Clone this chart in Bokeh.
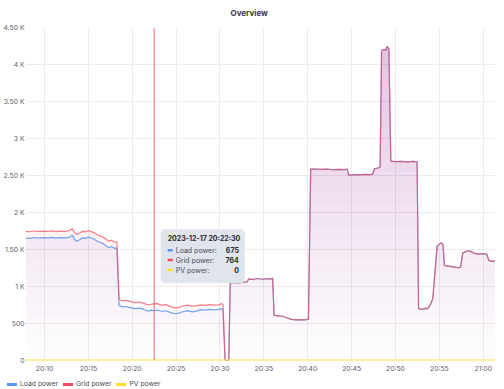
import numpy as np
import pandas as pd
from bokeh.plotting import figure
from bokeh.models import (Range1d, FixedTicker, DatetimeTickFormatter, Span,
                          BoxAnnotation, Label, Legend, LegendItem)
from bokeh.embed import file_html
from bokeh.resources import INLINE

DAY = "2023-12-17"
TITLE = "Overview"

times = [
    "20:07:50", "20:08:20", "20:08:50", "20:09:20", "20:09:50", "20:10:20", "20:10:50", "20:11:20",
    "20:11:50", "20:12:20", "20:12:50", "20:13:10", "20:13:25", "20:13:40", "20:14:00", "20:14:20",
    "20:14:40", "20:15:00", "20:15:20", "20:15:40", "20:16:00", "20:16:20", "20:16:40", "20:17:00",
    "20:17:20", "20:17:40", "20:18:00", "20:18:15", "20:18:30", "20:18:50", "20:19:20", "20:19:50",
    "20:20:20", "20:20:50", "20:21:20", "20:21:50", "20:22:10", "20:22:30", "20:22:50", "20:23:20",
    "20:23:50", "20:24:20", "20:24:50", "20:25:20", "20:25:50", "20:26:20", "20:26:50", "20:27:20",
    "20:27:50", "20:28:20", "20:28:50", "20:29:20", "20:29:50", "20:30:10", "20:30:20", "20:30:35",
    "20:31:00", "20:31:10", "20:31:40", "20:32:10", "20:32:40", "20:33:05", "20:33:15", "20:33:45",
    "20:34:15", "20:34:45", "20:35:15", "20:35:45", "20:36:00", "20:36:10", "20:36:40", "20:37:10",
    "20:37:40", "20:38:10", "20:38:40", "20:39:10", "20:39:40", "20:40:05", "20:40:20", "20:40:50",
    "20:41:30", "20:42:10", "20:42:50", "20:43:30", "20:44:10", "20:44:30", "20:44:40", "20:45:10",
    "20:45:50", "20:46:30", "20:47:10", "20:47:25", "20:47:35", "20:48:05", "20:48:15", "20:48:25",
    "20:48:42", "20:48:55", "20:49:02", "20:49:15", "20:49:28", "20:50:00", "20:50:40", "20:51:20",
    "20:52:00", "20:52:28", "20:52:38", "20:53:00", "20:53:20", "20:53:40", "20:54:00", "20:54:15",
    "20:54:45", "20:55:00", "20:55:15", "20:55:25", "20:55:35", "20:56:05", "20:56:35", "20:57:05",
    "20:57:25", "20:57:40", "20:58:00", "20:58:20", "20:58:40", "20:59:00", "20:59:30", "21:00:00",
    "21:00:25", "21:00:38", "21:01:00", "21:01:20",
]

load_power = [
    1655, 1650, 1662, 1655, 1660, 1656, 1664, 1654,
    1660, 1657, 1668, 1694, 1640, 1612, 1632, 1658,
    1650, 1668, 1655, 1640, 1612, 1598, 1580, 1552,
    1525, 1540, 1515, 1522, 745, 725, 730, 712,
    700, 708, 690, 668, 680, 675, 682, 665,
    672, 650, 632, 640, 662, 670, 658, 668,
    688, 680, 692, 685, 690, 700, 688, 0,
    0, 1050, 1055, 1048, 1058, 1062, 1100, 1095,
    1108, 1098, 1105, 1100, 1115, 610, 602, 598,
    575, 555, 548, 552, 550, 558, 2585, 2588,
    2582, 2586, 2578, 2584, 2580, 2585, 2505, 2510,
    2508, 2515, 2512, 2520, 2590, 2605, 2615, 4186,
    4205, 4190, 4244, 4215, 2695, 2688, 2692, 2685,
    2690, 2686, 700, 690, 705, 700, 760, 835,
    1545, 1572, 1590, 1565, 1282, 1275, 1266, 1255,
    1258, 1455, 1470, 1487, 1468, 1448, 1438, 1444,
    1436, 1352, 1340, 1350,
]

grid_power = [
    1745, 1740, 1750, 1743, 1748, 1745, 1752, 1742,
    1748, 1745, 1757, 1780, 1728, 1705, 1722, 1746,
    1738, 1756, 1742, 1728, 1700, 1686, 1668, 1640,
    1612, 1626, 1598, 1605, 828, 808, 812, 795,
    782, 790, 772, 750, 760, 764, 768, 748,
    755, 728, 712, 718, 740, 748, 735, 742,
    752, 745, 756, 748, 752, 768, 760, 0,
    0, 1050, 1055, 1048, 1058, 1062, 1100, 1095,
    1108, 1098, 1105, 1100, 1115, 610, 602, 598,
    575, 555, 548, 552, 550, 558, 2585, 2588,
    2582, 2586, 2578, 2584, 2580, 2585, 2505, 2510,
    2508, 2515, 2512, 2520, 2590, 2605, 2615, 4186,
    4205, 4190, 4244, 4215, 2695, 2688, 2692, 2685,
    2690, 2686, 700, 690, 705, 700, 760, 835,
    1545, 1572, 1590, 1565, 1282, 1275, 1266, 1255,
    1258, 1455, 1470, 1487, 1468, 1448, 1438, 1444,
    1436, 1352, 1340, 1350,
]

pv_times = ["20:07:50", "21:01:20"]
pv_power = [0, 0]

series_names = ["Load power", "Grid power", "PV power"]
series_colors = ["#5794F2", "#F2495C", "#FADE2A"]

xtick_labels = ["20:10", "20:15", "20:20", "20:25", "20:30", "20:35",
                "20:40", "20:45", "20:50", "20:55", "21:00"]
ytick_values = [0, 500, 1000, 1500, 2000, 2500, 3000, 3500, 4000, 4500]
ytick_labels = ["0", "500", "1 K", "1.50 K", "2 K", "2.50 K", "3 K", "3.50 K", "4 K", "4.50 K"]

hover_time = "20:22:30"
x_start, x_end = "20:07:50", "21:01:24"

FONT = "Inter"


def ts(s):
    return pd.Timestamp(f"{DAY} {s}")


def ms(s):
    return ts(s).value / 1e6


t = pd.to_datetime([f"{DAY} {s}" for s in times])
tp = pd.to_datetime([f"{DAY} {s}" for s in pv_times])
load = np.array(load_power, dtype=float)
grid = np.array(grid_power, dtype=float)

p = figure(width=504, height=375, output_backend="svg", toolbar_location=None,
           x_range=Range1d(ts(x_start), ts(x_end)), y_range=Range1d(0, 4500),
           x_axis_type="datetime",
           min_border_left=25, min_border_right=9, min_border_top=25, min_border_bottom=15)
p.outline_line_alpha = 0
p.background_fill_color = "white"
p.border_fill_color = "white"

# title
p.title.text = TITLE
p.title.align = "left"
p.title.vertical_align = "top"
p.title.offset = 205
p.title.text_font = FONT
p.title.text_font_size = "8px"
p.title.text_font_style = "bold"
p.title.text_color = "#3c3c46"
p.title.standoff = 15

# axes
for ax in (p.xaxis[0], p.yaxis[0]):
    ax.axis_line_alpha = 0
    ax.major_tick_line_alpha = 0
    ax.minor_tick_line_alpha = 0
    ax.major_tick_out = 0
    ax.major_tick_in = 0
    ax.minor_tick_out = 0
    ax.minor_tick_in = 0
    ax.major_label_text_font = FONT
    ax.major_label_text_font_size = "6.8px"
    ax.major_label_text_color = "#5c5c66"
p.yaxis.major_label_standoff = 1
p.xaxis.major_label_standoff = 3
p.xaxis.ticker = FixedTicker(ticks=[ms(lbl + ":00") for lbl in xtick_labels])
p.xaxis.formatter = DatetimeTickFormatter(minutes="%H:%M", hourmin="%H:%M", hours="%H:%M",
                                          minsec="%H:%M", seconds="%H:%M")
p.yaxis.ticker = FixedTicker(ticks=ytick_values)
p.yaxis.major_label_overrides = {v: l for v, l in zip(ytick_values, ytick_labels)}
p.xgrid.grid_line_color = "#ececec"
p.ygrid.grid_line_color = "#ececec"

# gradient fills (opacity grows with height), blue then red
n_layers = 30
top_alpha = 0.23
layer_alpha = 1 - (1 - top_alpha) ** (1 / n_layers)
levels = np.linspace(0, 4500, n_layers + 1)[:-1]
for yv, col in ((load, series_colors[0]), (grid, series_colors[1])):
    for b in levels:
        p.varea(x=t, y1=b, y2=np.maximum(yv, b), fill_color=col, fill_alpha=layer_alpha)

# lines
p.line(t, load, line_color=series_colors[0], line_width=1.2, line_alpha=0.85)
p.line(t, grid, line_color=series_colors[1], line_width=1.2, line_alpha=0.72)
p.line(tp, pv_power, line_color=series_colors[2], line_width=2, line_alpha=0.9)

# crosshair
p.add_layout(Span(location=ms(hover_time), dimension="height", line_color=series_colors[1],
                  line_alpha=0.7, line_width=1.2))

# tooltip
hi = times.index(hover_time)
hover_vals = [load[hi], grid[hi], float(np.interp(ms(hover_time), tp.astype("int64") / 1e6, pv_power))]
p.add_layout(BoxAnnotation(left=ms("20:23:14"), right=ms("20:32:50"), top=1773, bottom=1048,
                           fill_color="#dfe4eb", fill_alpha=0.97, line_alpha=0, border_radius=4))
p.add_layout(Label(x=ms("20:24:02"), y=1652, text=f"{DAY} {hover_time}", text_font=FONT,
                   text_font_size="7px", text_font_style="bold", text_color="#2a2a35",
                   text_baseline="middle"))
row_y = [1491, 1357, 1222]
for name, col, val, ry in zip(series_names, series_colors, hover_vals, row_y):
    p.add_layout(BoxAnnotation(left=ms("20:24:02"), right=ms("20:24:37"), top=ry + 17, bottom=ry - 17,
                               fill_color=col, fill_alpha=1, line_alpha=0))
    p.add_layout(Label(x=ms("20:24:57"), y=ry, text=f"{name}:", text_font=FONT,
                       text_font_size="7px", text_color="#4a4a55", text_baseline="middle"))
    p.add_layout(Label(x=ms("20:32:09"), y=ry, text=f"{int(round(val))}", text_font=FONT,
                       text_font_size="7px", text_font_style="bold", text_color="#2a2a35",
                       text_baseline="middle", text_align="right"))

# legend strip below the chart (its lines lie outside this strip's ranges)
lf = figure(width=504, height=14, output_backend="svg", toolbar_location=None,
            x_range=Range1d(0, 1), y_range=Range1d(0, 1),
            x_axis_location=None, y_axis_location=None,
            min_border_left=0, min_border_right=0, min_border_top=0, min_border_bottom=0)
lf.outline_line_alpha = 0
lf.grid.visible = False
lf.border_fill_color = "white"
leg_r = [lf.line(t, load, line_color=series_colors[0], line_width=3, line_cap="round"),
         lf.line(t, grid, line_color=series_colors[1], line_width=3, line_cap="round"),
         lf.line(tp, pv_power, line_color=series_colors[2], line_width=3, line_cap="round")]
legend = Legend(items=[LegendItem(label=n, renderers=[r]) for n, r in zip(series_names, leg_r)],
                orientation="horizontal", location=(7, 1),
                border_line_alpha=0, background_fill_alpha=0,
                label_text_font=FONT, label_text_font_size="6.8px", label_text_color="#4a4a55",
                glyph_width=10, glyph_height=8, label_standoff=3, spacing=5,
                padding=0, margin=0, label_height=8)
lf.add_layout(legend)

open("out.html", "w").write(file_html([p, lf], INLINE))
